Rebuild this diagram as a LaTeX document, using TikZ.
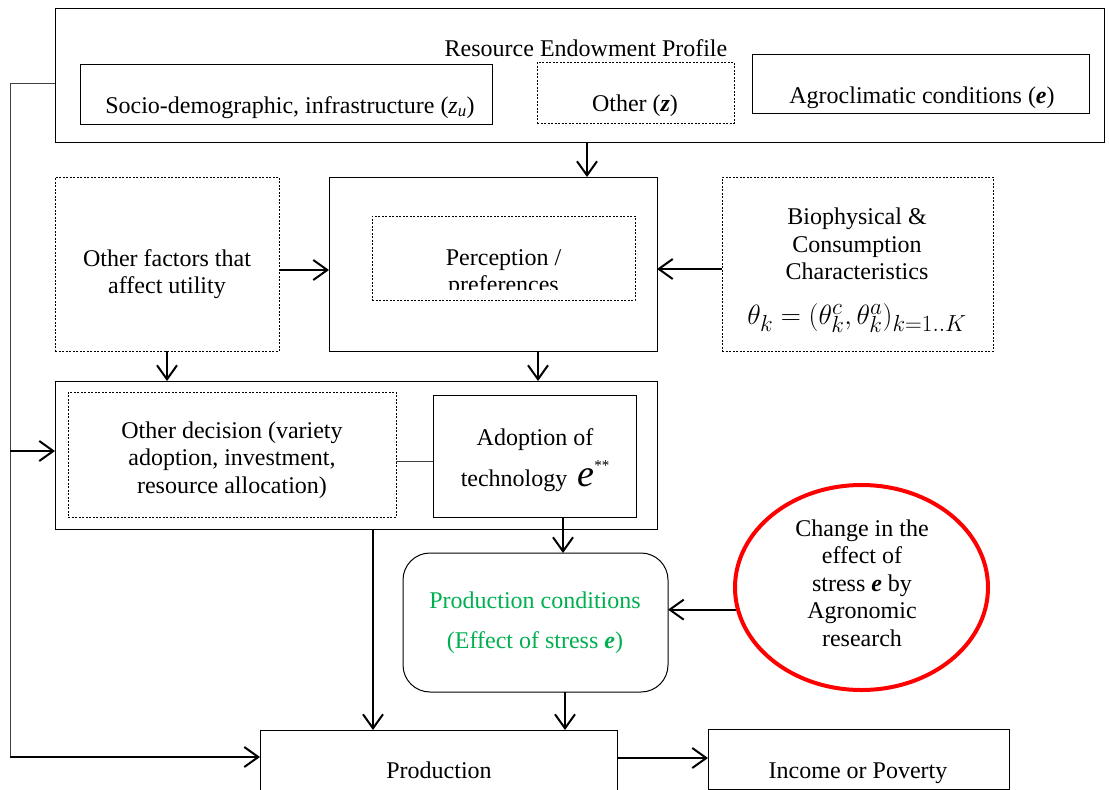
\documentclass[tikz,border=0pt]{standalone}
\usepackage{fontspec}
\setmainfont{Liberation Serif}
\usetikzlibrary{arrows.meta,shapes.geometric}
\definecolor{wgreen}{RGB}{0,176,80}
\newcommand\fs{\fontsize{24}{27.5}\selectfont}
\begin{document}
\begin{tikzpicture}[x=1pt,y=-1pt,
  box/.style={draw, line width=1pt, inner sep=0pt, outer sep=0pt},
  dbox/.style={draw, line width=0.9pt, dash pattern=on 2pt off 1.5pt, inner sep=0pt, outer sep=0pt},
  txt/.style={font=\fs, align=center, inner sep=0pt},
  arr/.style={line width=2pt, -{Straight Barb[length=14pt,width=20pt,line width=2pt]}},
  thinline/.style={line width=1pt, draw=black!75},
]
\useasboundingbox (0,0) rectangle (1109,790);
\clip (0,0) rectangle (1109,790);

% top box
\node[box, minimum width=1049pt, minimum height=134pt] (top) at (579.5,75) {};
\node[txt] (title) at (586,48) {Resource Endowment Profile};
\node[box, minimum width=412pt, minimum height=60pt] (socio) at (286,94) {};
\node[txt, anchor=base] (sociot) at (290,113) {Socio-demographic, infrastructure (\textit{z}\textsubscript{\textit{u}})};
\node[dbox, minimum width=197pt, minimum height=61pt] (otherz) at (635.5,92.5) {};
\node[txt, anchor=base] (otherzt) at (635,111) {Other (\textbf{\textit{z}})};
\node[box, minimum width=337pt, minimum height=59pt] (agro) at (920.5,83.5) {};
\node[txt, anchor=base] (agrot) at (922,103) {Agroclimatic conditions (\textbf{\textit{e}})};

% second row
\node[dbox, minimum width=224pt, minimum height=174pt] (ofac) at (167,264) {};
\node[txt] (ofact) at (167,274) {Other factors that\\affect utility};
\node[box, minimum width=328pt, minimum height=174pt] (perc) at (493,264) {};
\node[dbox, minimum width=263pt, minimum height=84pt] (percin) at (503.5,258) {};
\begin{scope}
\clip (372,216) rectangle (635,289);
\node[txt, anchor=base] (perct) at (503.5,265) {Perception /};
\node[txt, anchor=base] (perct2) at (503.5,292.5) {preferences};
\end{scope}
\node[dbox, minimum width=271pt, minimum height=174pt] (bio) at (857.5,264) {};
\node[txt] (biot) at (857,244) {Biophysical \&\\Consumption\\Characteristics};
\node[inner sep=0pt] (biof) at (857,318) {\scalebox{1.12}{\fontsize{24.88}{26}\selectfont$\theta_k=(\theta_k^c,\theta_k^a)_{k=1..K}$}};

% third row
\node[box, minimum width=602pt, minimum height=148pt] (mid) at (356,455) {};
\node[dbox, minimum width=328pt, minimum height=125pt] (odec) at (232,454.5) {};
\node[txt] (odect) at (232,460) {Other decision (variety\\adoption, investment,\\resource allocation)};
\node[box, minimum width=203pt, minimum height=122pt] (adopt) at (534.5,456) {};
\node[txt, anchor=base] (adoptt1) at (535,445) {Adoption of};
\node[txt, anchor=base] (adoptt2) at (535,486) {technology \,{\fontsize{38}{38}\selectfont\textit{e}}\raisebox{16pt}{\fontsize{15}{15}\selectfont **}};

% production conditions
\node[box, rounded corners=27pt, minimum width=265pt, minimum height=139pt] (pcond) at (535.5,622.5) {};
\node[txt, text=wgreen] (pcondt1) at (535,600) {Production conditions};
\node[txt, text=wgreen] (pcondt2) at (535,643) {(Effect of stress \textbf{\textit{e}})};

% circle
\node[ellipse, draw=red, line width=4pt, minimum width=253pt, minimum height=205pt, inner sep=0pt] (circ) at (861.5,587.5) {};
\node[txt] (circt) at (862,583) {Change in the\\effect of\\stress \textbf{\textit{e}} by\\Agronomic\\research};

% bottom
\node[box, minimum width=357pt, minimum height=80pt] (prod) at (438.5,770) {};
\node[txt, anchor=base] (prodt) at (439,778) {Production};
\node[box, minimum width=301pt, minimum height=60pt] (income) at (858.5,759) {};
\node[txt, anchor=base] (incomet) at (858,778) {Income or Poverty};

% coordinates
\coordinate (a1) at (587,142);
\coordinate (a2) at (538,351);
\coordinate (a3) at (563,517);
\coordinate (a4) at (373,529);
\coordinate (a5) at (565,692);
\coordinate (c1) at (400,461);
\coordinate (L0) at (55,83);
\coordinate (L1) at (10,83);
\coordinate (L2) at (10,451);
\coordinate (L3) at (10,757);
\coordinate (P1) at (617,758);

% connectors
\draw[arr] (a1) -- (a1 |- perc.north);
\draw[arr] ([yshift=-6pt]ofac.east) -- ([yshift=-6pt]perc.west);
\draw[arr] ([yshift=-5pt]bio.west) -- ([yshift=-5pt]perc.east);
\draw[arr] (ofac.south) -- (ofac.south |- mid.north);
\draw[arr] (a2) -- (a2 |- mid.north);
\draw[thinline] (odec.east |- c1) -- (adopt.west |- c1);
\draw[arr] (a3) -- (a3 |- pcond.north);
\draw[arr] (a4) -- (a4 |- prod.north);
\draw[arr] (a5) -- (a5 |- prod.north);
\draw[arr] (circ.190) -- (pcond.east |- circ.190);
\draw[thinline] (L0) -- (L1) -- (L3);
\draw[arr] (L2) -- (L2 -| mid.west);
\draw[arr] (L3) -- (L3 -| prod.west);
\draw[arr] (P1) -- (P1 -| income.west);
\end{tikzpicture}
\end{document}
